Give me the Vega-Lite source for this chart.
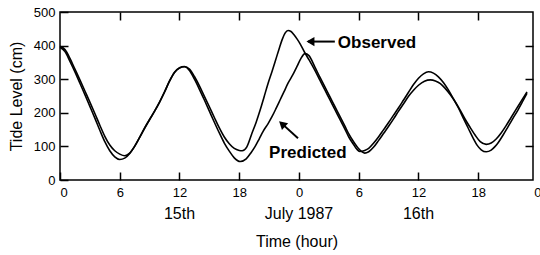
{
  "$schema": "https://vega.github.io/schema/vega-lite/v6.json",
  "width": 473,
  "height": 168,
  "autosize": {"type": "none"},
  "padding": {"left": 60, "top": 12, "right": 7, "bottom": 75},
  "background": "white",
  "config": {
    "view": {"stroke": "black", "strokeWidth": 1.5},
    "font": "Liberation Sans",
    "axis": {
      "domain": false,
      "grid": false,
      "tickColor": "black",
      "tickWidth": 1.5,
      "tickSize": -8,
      "labelColor": "black",
      "labelFont": "Liberation Sans",
      "labelFontSize": 13,
      "titleFont": "Liberation Sans",
      "titleFontSize": 16,
      "titleFontWeight": "normal",
      "titleColor": "black"
    }
  },
  "datasets": {
    "obs": [
      {"hour": 0, "level": 398}, {"hour": 0.5, "level": 388}, {"hour": 1, "level": 362}, {"hour": 1.5, "level": 330},
      {"hour": 2, "level": 298}, {"hour": 2.5, "level": 265}, {"hour": 3, "level": 232}, {"hour": 3.5, "level": 198},
      {"hour": 4, "level": 163}, {"hour": 4.5, "level": 130}, {"hour": 5, "level": 104}, {"hour": 5.5, "level": 87},
      {"hour": 6, "level": 77}, {"hour": 6.5, "level": 72}, {"hour": 7, "level": 80}, {"hour": 7.5, "level": 100},
      {"hour": 8, "level": 127}, {"hour": 8.5, "level": 155}, {"hour": 9, "level": 180}, {"hour": 9.5, "level": 205},
      {"hour": 10, "level": 232}, {"hour": 10.5, "level": 262}, {"hour": 11, "level": 295}, {"hour": 11.5, "level": 321},
      {"hour": 12, "level": 334}, {"hour": 12.5, "level": 338}, {"hour": 13, "level": 330}, {"hour": 13.5, "level": 308},
      {"hour": 14, "level": 280}, {"hour": 14.5, "level": 249}, {"hour": 15, "level": 218}, {"hour": 15.5, "level": 186},
      {"hour": 16, "level": 155}, {"hour": 16.5, "level": 128}, {"hour": 17, "level": 108}, {"hour": 17.5, "level": 94},
      {"hour": 18, "level": 88}, {"hour": 18.3, "level": 87}, {"hour": 18.75, "level": 98}, {"hour": 19.25, "level": 137},
      {"hour": 19.7, "level": 172}, {"hour": 20.1, "level": 208}, {"hour": 20.5, "level": 248}, {"hour": 20.9, "level": 288},
      {"hour": 21.3, "level": 324}, {"hour": 21.6, "level": 352}, {"hour": 22, "level": 390}, {"hour": 22.3, "level": 417},
      {"hour": 22.6, "level": 437}, {"hour": 22.9, "level": 445}, {"hour": 23.2, "level": 442}, {"hour": 23.5, "level": 432},
      {"hour": 23.8, "level": 420}, {"hour": 24.1, "level": 406}, {"hour": 24.6, "level": 378}, {"hour": 25, "level": 358},
      {"hour": 25.6, "level": 326}, {"hour": 26.1, "level": 297}, {"hour": 26.6, "level": 268}, {"hour": 27.1, "level": 239},
      {"hour": 27.6, "level": 210}, {"hour": 28.1, "level": 181}, {"hour": 28.6, "level": 152}, {"hour": 29, "level": 128},
      {"hour": 29.5, "level": 105}, {"hour": 29.8, "level": 92}, {"hour": 30.1, "level": 85}, {"hour": 30.6, "level": 88},
      {"hour": 31, "level": 94}, {"hour": 31.5, "level": 110}, {"hour": 32, "level": 129}, {"hour": 32.5, "level": 150},
      {"hour": 33, "level": 171}, {"hour": 33.5, "level": 193}, {"hour": 34, "level": 215}, {"hour": 34.5, "level": 238},
      {"hour": 35, "level": 261}, {"hour": 35.5, "level": 284}, {"hour": 36, "level": 303}, {"hour": 36.5, "level": 316},
      {"hour": 37, "level": 322}, {"hour": 37.5, "level": 318}, {"hour": 38, "level": 307}, {"hour": 38.5, "level": 290},
      {"hour": 39, "level": 268}, {"hour": 39.5, "level": 242}, {"hour": 40, "level": 215}, {"hour": 40.5, "level": 184},
      {"hour": 41, "level": 154}, {"hour": 41.5, "level": 124}, {"hour": 41.9, "level": 103}, {"hour": 42.3, "level": 90},
      {"hour": 42.8, "level": 84}, {"hour": 43.3, "level": 89}, {"hour": 43.7, "level": 100}, {"hour": 44, "level": 111},
      {"hour": 44.5, "level": 134}, {"hour": 45, "level": 159}, {"hour": 45.5, "level": 184}, {"hour": 46, "level": 209},
      {"hour": 46.5, "level": 236}, {"hour": 46.9, "level": 258}
    ],
    "pred": [
      {"hour": 0, "level": 395}, {"hour": 0.5, "level": 382}, {"hour": 1, "level": 353}, {"hour": 1.5, "level": 322},
      {"hour": 2, "level": 288}, {"hour": 2.5, "level": 254}, {"hour": 3, "level": 219}, {"hour": 3.5, "level": 184},
      {"hour": 4, "level": 148}, {"hour": 4.5, "level": 114}, {"hour": 5, "level": 87}, {"hour": 5.5, "level": 69},
      {"hour": 6, "level": 61}, {"hour": 6.5, "level": 65}, {"hour": 7, "level": 79}, {"hour": 7.5, "level": 101},
      {"hour": 8, "level": 127}, {"hour": 8.5, "level": 154}, {"hour": 9, "level": 180}, {"hour": 9.5, "level": 205},
      {"hour": 10, "level": 232}, {"hour": 10.5, "level": 262}, {"hour": 11, "level": 294}, {"hour": 11.5, "level": 320},
      {"hour": 12, "level": 333}, {"hour": 12.5, "level": 337}, {"hour": 13, "level": 326}, {"hour": 13.5, "level": 300},
      {"hour": 14, "level": 270}, {"hour": 14.5, "level": 238}, {"hour": 15, "level": 205}, {"hour": 15.5, "level": 172},
      {"hour": 16, "level": 140}, {"hour": 16.5, "level": 110}, {"hour": 17, "level": 86}, {"hour": 17.5, "level": 66},
      {"hour": 18.1, "level": 55}, {"hour": 18.7, "level": 63}, {"hour": 19.2, "level": 82}, {"hour": 19.6, "level": 100},
      {"hour": 20, "level": 122}, {"hour": 20.4, "level": 145}, {"hour": 20.9, "level": 168}, {"hour": 21.3, "level": 189},
      {"hour": 21.7, "level": 213}, {"hour": 22.1, "level": 238}, {"hour": 22.5, "level": 263}, {"hour": 22.9, "level": 288},
      {"hour": 23.4, "level": 314}, {"hour": 23.8, "level": 338}, {"hour": 24.2, "level": 362}, {"hour": 24.6, "level": 376},
      {"hour": 25, "level": 370}, {"hour": 25.6, "level": 336}, {"hour": 26.1, "level": 306}, {"hour": 26.6, "level": 277},
      {"hour": 27.1, "level": 248}, {"hour": 27.6, "level": 219}, {"hour": 28.1, "level": 190}, {"hour": 28.6, "level": 161},
      {"hour": 29, "level": 137}, {"hour": 29.5, "level": 113}, {"hour": 30, "level": 93}, {"hour": 30.6, "level": 80},
      {"hour": 31, "level": 84}, {"hour": 31.5, "level": 98}, {"hour": 32, "level": 118}, {"hour": 32.5, "level": 139},
      {"hour": 33, "level": 160}, {"hour": 33.5, "level": 182}, {"hour": 34, "level": 205}, {"hour": 34.5, "level": 227},
      {"hour": 35, "level": 249}, {"hour": 35.5, "level": 267}, {"hour": 36, "level": 282}, {"hour": 36.6, "level": 294},
      {"hour": 37.2, "level": 298}, {"hour": 37.7, "level": 295}, {"hour": 38.2, "level": 287}, {"hour": 38.7, "level": 272},
      {"hour": 39.2, "level": 254}, {"hour": 39.7, "level": 232}, {"hour": 40.2, "level": 207}, {"hour": 40.7, "level": 180},
      {"hour": 41.2, "level": 156}, {"hour": 41.7, "level": 133}, {"hour": 42.2, "level": 114}, {"hour": 42.8, "level": 106},
      {"hour": 43.3, "level": 110}, {"hour": 43.8, "level": 122}, {"hour": 44.3, "level": 140}, {"hour": 44.8, "level": 162},
      {"hour": 45.3, "level": 186}, {"hour": 45.8, "level": 210}, {"hour": 46.3, "level": 234}, {"hour": 46.9, "level": 262}
    ],
    "daylabels": [
      {"hour": 12, "label": "15th"},
      {"hour": 24, "label": "July 1987"},
      {"hour": 36, "label": "16th"}
    ],
    "endlabel": [{"hour": 48, "label": "0"}],
    "notes": [
      {"name": "Observed", "hour": 27.9, "level": 408},
      {"name": "Predicted", "hour": 21.0, "level": 80}
    ],
    "arrows": [
      {"name": "Observed", "hour": 24.9, "level": 412, "hour2": 27.6, "level2": 412},
      {"name": "Predicted", "hour": 22.2, "level": 170, "hour2": 23.9, "level2": 124}
    ],
    "headObs": [{"hour": 25.15, "level": 412}],
    "headPred": [{"hour": 22.3, "level": 167}]
  },
  "layer": [
    {
      "data": {"name": "obs"},
      "mark": {"type": "line", "color": "black", "strokeWidth": 1.6, "interpolate": "monotone"},
      "encoding": {
        "x": {"field": "hour", "type": "quantitative",
          "scale": {"domain": [0, 47.5], "nice": false, "zero": false},
          "axis": {"orient": "bottom", "values": [0, 6, 12, 18, 24, 30, 36, 42],
            "labelExpr": "toString(datum.value % 24)", "labelPadding": 14,
            "title": "Time (hour)", "titlePadding": 34}},
        "y": {"field": "level", "type": "quantitative",
          "scale": {"domain": [0, 500], "nice": false},
          "axis": {"orient": "left", "values": [0, 100, 200, 300, 400, 500],
            "labelPadding": 13, "title": "Tide Level (cm)", "titlePadding": 9}}
      }
    },
    {
      "data": {"name": "pred"},
      "mark": {"type": "line", "color": "black", "strokeWidth": 1.6, "interpolate": "monotone"},
      "encoding": {
        "x": {"field": "hour", "type": "quantitative",
          "axis": {"orient": "top", "values": [6, 12, 18, 24, 30, 36, 42], "labels": false, "title": null}},
        "y": {"field": "level", "type": "quantitative",
          "axis": {"orient": "right", "values": [100, 200, 300, 400], "labels": false, "title": null}}
      }
    },
    {
      "data": {"name": "daylabels"},
      "mark": {"type": "text", "fontSize": 16, "font": "Liberation Sans", "color": "black", "baseline": "middle", "align": "center", "dy": 34},
      "encoding": {
        "x": {"field": "hour", "type": "quantitative", "axis": null},
        "y": {"datum": 0, "type": "quantitative", "axis": null},
        "text": {"field": "label"}
      }
    },
    {
      "data": {"name": "endlabel"},
      "mark": {"type": "text", "fontSize": 13, "font": "Liberation Sans", "color": "black", "baseline": "middle", "align": "center", "dy": 13},
      "encoding": {
        "x": {"field": "hour", "type": "quantitative", "axis": null},
        "y": {"datum": 0, "type": "quantitative", "axis": null},
        "text": {"field": "label"}
      }
    },
    {
      "data": {"name": "notes"},
      "mark": {"type": "text", "fontSize": 17, "fontWeight": "bold", "font": "Liberation Sans", "color": "black", "baseline": "middle", "align": "left"},
      "encoding": {
        "x": {"field": "hour", "type": "quantitative", "axis": null},
        "y": {"field": "level", "type": "quantitative", "axis": null},
        "text": {"field": "name"}
      }
    },
    {
      "data": {"name": "arrows"},
      "mark": {"type": "rule", "color": "black", "strokeWidth": 2},
      "encoding": {
        "x": {"field": "hour", "type": "quantitative", "axis": null},
        "y": {"field": "level", "type": "quantitative", "axis": null},
        "x2": {"field": "hour2"},
        "y2": {"field": "level2"}
      }
    },
    {
      "data": {"name": "headObs"},
      "mark": {"type": "point", "shape": "triangle-left", "filled": true, "color": "black", "opacity": 1, "size": 85},
      "encoding": {
        "x": {"field": "hour", "type": "quantitative", "axis": null},
        "y": {"field": "level", "type": "quantitative", "axis": null}
      }
    },
    {
      "data": {"name": "headPred"},
      "mark": {"type": "point", "shape": "triangle-left", "filled": true, "color": "black", "opacity": 1, "size": 85, "angle": 42},
      "encoding": {
        "x": {"field": "hour", "type": "quantitative", "axis": null},
        "y": {"field": "level", "type": "quantitative", "axis": null}
      }
    }
  ],
  "resolve": {"axis": {"x": "independent", "y": "independent"}}
}
